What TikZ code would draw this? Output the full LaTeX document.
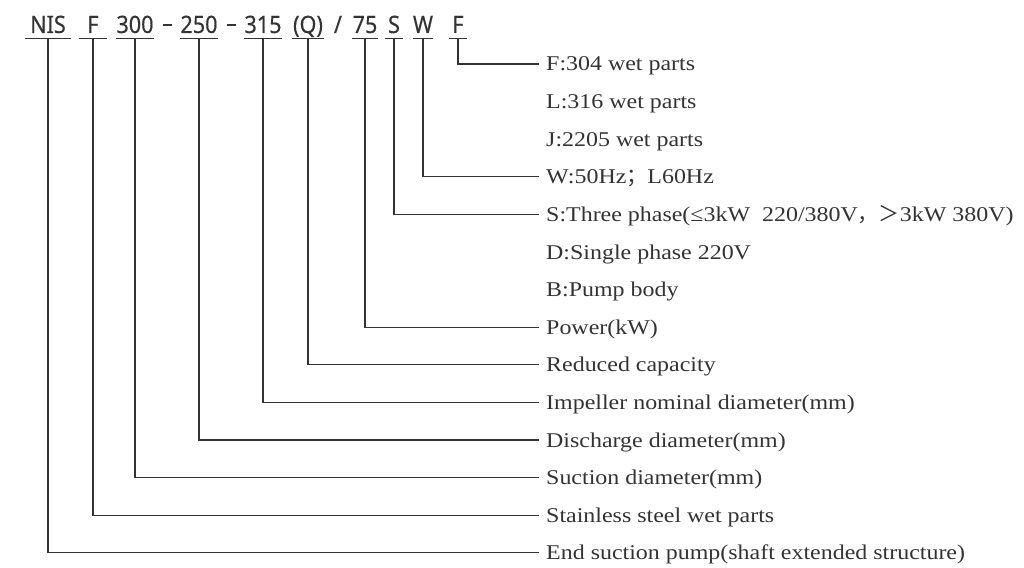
\documentclass[tikz,border=0pt]{standalone}
\usepackage{fontspec}
\setmainfont{Liberation Serif}[FakeStretch=1.14]
\newfontfamily\codefont{Noto Sans}[FakeStretch=0.9,FakeBold=0.3]
\newfontfamily\cjk{Noto Sans CJK SC}
\definecolor{ink}{HTML}{333333}
\tikzset{
  codebox/.style={font=\codefont\fontsize{24}{24}\selectfont,text=ink,inner xsep=0pt,inner ysep=5pt,text depth=0pt,anchor=base},
  meaning/.style={font=\fontsize{21}{21}\selectfont,text=ink,anchor=west,inner xsep=7pt,inner ysep=0pt,text height=14pt,text depth=0pt},
  leader/.style={draw=ink,line width=1.2pt}
}
\begin{document}
\begin{tikzpicture}[x=1pt,y=-1pt,line join=miter]
  \useasboundingbox (0,0) rectangle (1024,567);
  % model code
  \foreach \nm/\xc/\cw/\txt in {nis/48/46/NIS,fa/93/28/F,suc/135/36/300,dis/199/38/250,imp/263/38/315,red/308/31/(Q),pow/365/21/75,pha/394/18/S,fre/423/20/W,mat/458/18/F}
    {\node[codebox,minimum width=\cw] (\nm) at (\xc,33) {\txt};}
  \node[codebox] (dashA) at (167,33) {\rule[6.5pt]{9pt}{2.6pt}};
  \node[codebox] (dashB) at (231,33) {\rule[6.5pt]{9pt}{2.6pt}};
  \node[codebox] (slash) at (338,33) {/};
  \foreach \nm in {nis,fa,suc,dis,imp,red,pow,pha,fre,mat}
    {\draw[leader] (\nm.south west)--(\nm.south east);}
  % meanings
  \node[meaning] (tF) at (539,64.0) {F:304 wet parts};
  \node[meaning] (tL) at (539,101.6) {L:316 wet parts};
  \node[meaning] (tJ) at (539,139.2) {J:2205 wet parts};
  \node[meaning] (tW) at (539,176.8) {W:50Hz{\cjk ；}L60Hz};
  \node[meaning] (tS) at (539,214.4) {S:Three phase(≤3kW\ \ 220/380V{\cjk ，}{\cjk ＞}3kW 380V)};
  \node[meaning] (tD) at (539,252.0) {D:Single phase 220V};
  \node[meaning] (tB) at (539,289.6) {B:Pump body};
  \node[meaning] (tP) at (539,327.2) {Power(kW)};
  \node[meaning] (tR) at (539,364.8) {Reduced capacity};
  \node[meaning] (tI) at (539,402.4) {Impeller nominal diameter(mm)};
  \node[meaning] (tDi) at (539,440.0) {Discharge diameter(mm)};
  \node[meaning] (tSu) at (539,477.6) {Suction diameter(mm)};
  \node[meaning] (tSt) at (539,515.2) {Stainless steel wet parts};
  \node[meaning] (tE) at (539,552.8) {End suction pump(shaft extended structure)};
  % leaders
  \draw[leader] (mat.south) |- (tF.west);
  \draw[leader] (fre.south) |- (tW.west);
  \draw[leader] (pha.south) |- (tS.west);
  \draw[leader] (pow.south) |- (tP.west);
  \draw[leader] (red.south) |- (tR.west);
  \draw[leader] (imp.south) |- (tI.west);
  \draw[leader] (dis.south) |- (tDi.west);
  \draw[leader] (suc.south) |- (tSu.west);
  \draw[leader] (fa.south) |- (tSt.west);
  \draw[leader] (nis.south) |- (tE.west);
\end{tikzpicture}
\end{document}
